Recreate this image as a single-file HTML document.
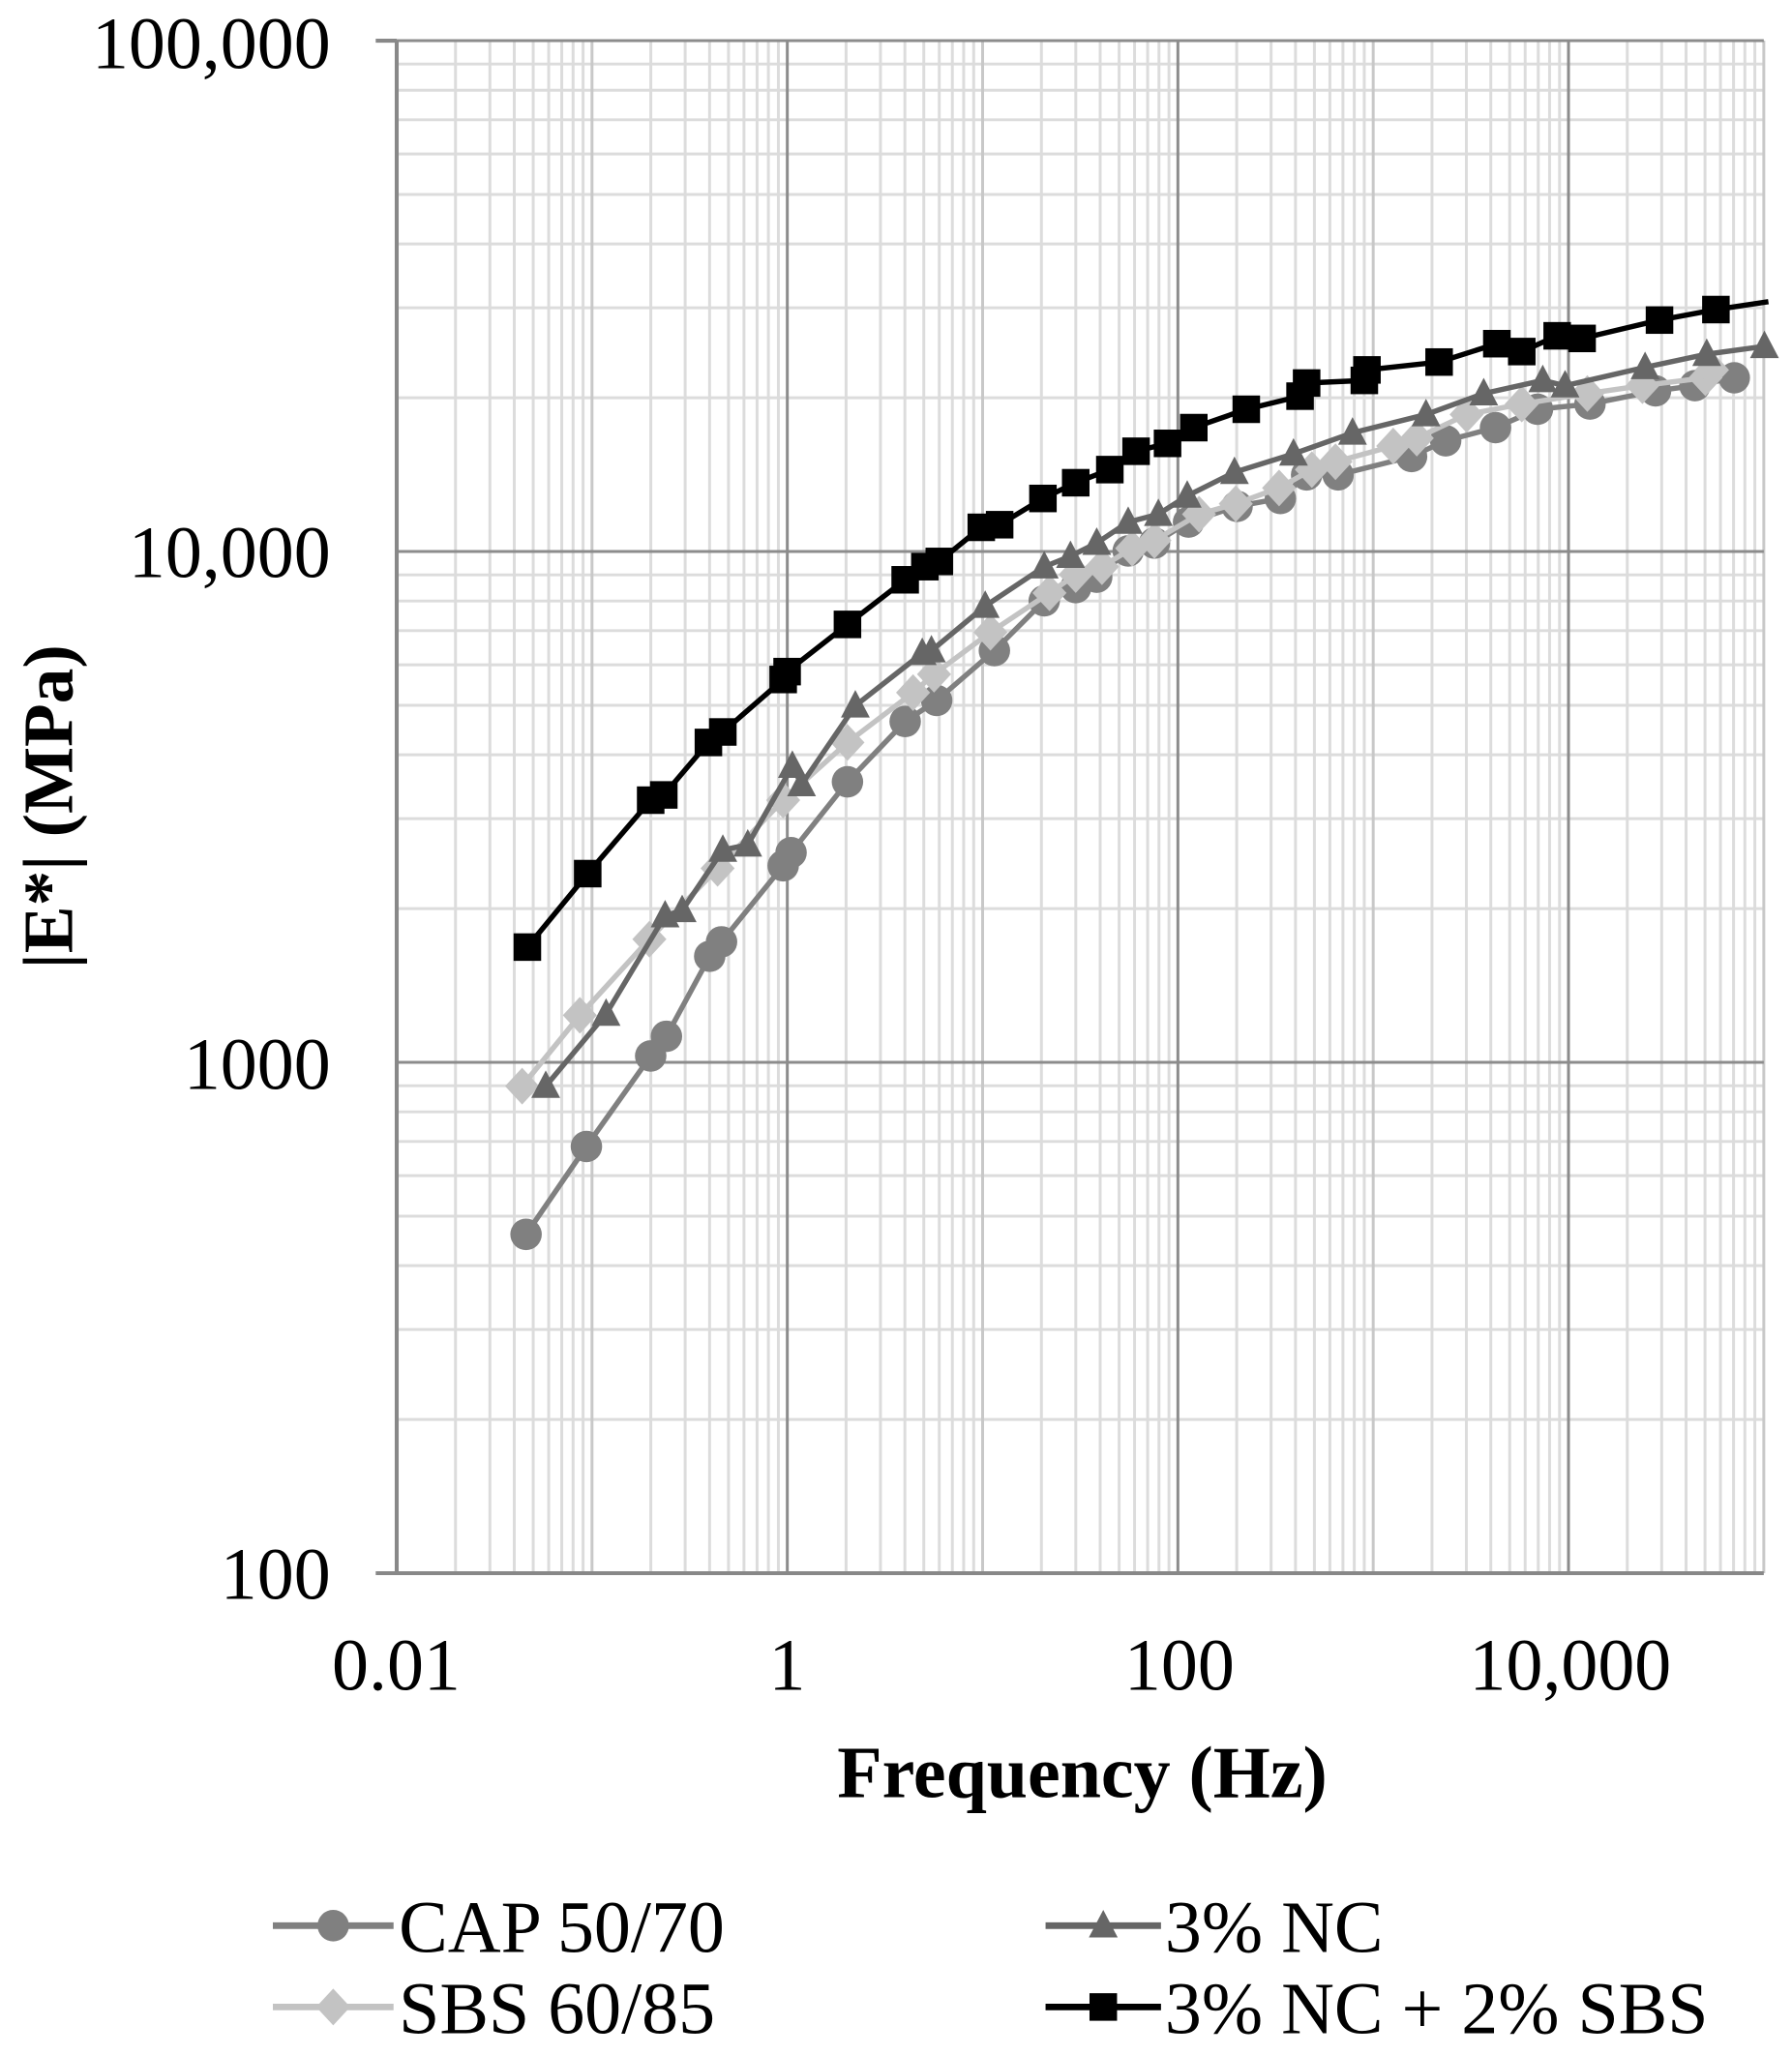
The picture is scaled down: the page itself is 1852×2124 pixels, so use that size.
<!DOCTYPE html>
<html><head><meta charset="utf-8"><style>
html,body{margin:0;padding:0;background:#fff}
svg{display:block}
text{font-family:"Liberation Serif",serif;fill:#000}
</style></head><body>
<svg id="s" width="1852" height="2124" viewBox="0 0 1366 1566.6" preserveAspectRatio="none" xmlns="http://www.w3.org/2000/svg">
<g id="grid"></g>
<g id="series"></g>
<g font-size="56">
<text x="252" y="52" text-anchor="end">100,000</text>
<text x="252" y="440" text-anchor="end">10,000</text>
<text x="252" y="830" text-anchor="end">1000</text>
<text x="252" y="1219" text-anchor="end">100</text>
<text x="302" y="1288" text-anchor="middle">0.01</text>
<text x="600" y="1288" text-anchor="middle">1</text>
<text x="899" y="1288" text-anchor="middle">100</text>
<text x="1197" y="1288" text-anchor="middle">10,000</text>
</g>
<text x="825" y="1370" text-anchor="middle" font-size="56" font-weight="bold">Frequency (Hz)</text>
<text transform="translate(55,615) rotate(-90)" text-anchor="middle" font-size="54" font-weight="bold">|E*| (MPa)</text>
<g id="legend" font-size="56">
<text x="304" y="1488">CAP 50/70</text>
<text x="304" y="1550">SBS 60/85</text>
<text x="888" y="1488">3% NC</text>
<text x="888" y="1550">3% NC + 2% SBS</text>
</g>
</svg>
<script>
var NS="http://www.w3.org/2000/svg";
function el(p,t,a){var e=document.createElementNS(NS,t);for(var k in a)e.setAttribute(k,a[k]);p.appendChild(e);return e;}
var L=302.4,R=1344.5,T=31,B=1199.3,dx=(R-L)/7,dy=(B-T)/3;
var g=document.getElementById('grid');
for(var d=0;d<7;d++){for(var m=2;m<=9;m++){var x=L+dx*(d+Math.log10(m));el(g,'line',{x1:x,x2:x,y1:T,y2:B,stroke:'#dcdcdc','stroke-width':2.2});}}
for(var d=0;d<3;d++){for(var m=2;m<=9;m++){var y=B-dy*(d+Math.log10(m));el(g,'line',{x1:L,x2:R,y1:y,y2:y,stroke:'#dcdcdc','stroke-width':2.2});}}
for(var d=1;d<=7;d++){var x=L+dx*d;el(g,'line',{x1:x,x2:x,y1:T,y2:B,stroke:d%2==0?'#8c8c8c':'#c8c8c8','stroke-width':2.2});}
for(var d=0;d<3;d++){var y=T+dy*d;el(g,'line',{x1:L,x2:R,y1:y,y2:y,stroke:'#8c8c8c','stroke-width':2.2});}
el(g,'line',{x1:L,x2:L,y1:T,y2:B+1,stroke:'#888','stroke-width':3});
el(g,'line',{x1:L-16,x2:R,y1:B,y2:B,stroke:'#888','stroke-width':3});
el(g,'line',{x1:L-16,x2:L,y1:T,y2:T,stroke:'#888','stroke-width':3});
var s=document.getElementById('series');
function mk(p,type,x,y,c){
 if(type=='c')el(p,'circle',{cx:x,cy:y,r:12,fill:c});
 else if(type=='s')el(p,'rect',{x:x-10.5,y:y-10.5,width:21,height:21,fill:c});
 else if(type=='d')el(p,'polygon',{points:(x)+','+(y-14)+' '+(x+13)+','+y+' '+x+','+(y+14)+' '+(x-13)+','+y,fill:c});
 else el(p,'polygon',{points:x+','+(y-12)+' '+(x+11)+','+(y+9)+' '+(x-11)+','+(y+9),fill:c});
}
function ser(pts,c,type,w,end){
 var d=pts.map(function(p){return p.join(',')});
 if(end)d.push(end.join(','));
 el(s,'polyline',{points:d.join(' '),fill:'none',stroke:c,'stroke-width':w,'stroke-linejoin':'round'});
 pts.forEach(function(p){mk(s,type,p[0],p[1],c);});
}
ser([[401,941],[447,874],[496,805],[508,790],[541,729],[550,718],[597,660],[603,650],[646,596],[690,550],[714,534],[758,496],[796,458],[820,448],[836,440],[860,420],[880,414],[906,398],[943,386],[976,380],[996,362],[1020,362],[1076,348],[1102,336],[1140,326],[1172,312],[1212,308],[1262,298],[1292,294],[1322,288]],'#808080','c',4);
ser([[398,828],[442,774],[495,716],[547,662],[597,610],[646,566],[696,528],[712,514],[755,482],[800,452],[820,438],[840,432],[863,418],[880,412],[914,392],[942,384],[975,372],[1000,358],[1018,352],[1062,340],[1080,334],[1118,316],[1160,308],[1210,300],[1252,294],[1300,288],[1305,282]],'#c3c3c3','d',4);
ser([[416,828],[462,773],[507,698],[520,694],[551,648],[570,644],[604,584],[611,598],[652,538],[703,498],[710,496],[751,462],[796,432],[816,424],[836,414],[860,398],[883,392],[905,378],[941,360],[986,346],[1031,330],[1087,316],[1131,300],[1176,290],[1193,294],[1254,280],[1301,270],[1345,264]],'#666666','t',4);
ser([[402,722],[448,666],[496,610],[506,606],[540,566],[551,558],[597,518],[600,512],[646,476],[690,442],[705,432],[716,428],[748,402],[762,400],[795,380],[820,368],[846,358],[866,344],[890,338],[910,326],[950,312],[991,302],[996,292],[1040,290],[1042,282],[1097,276],[1141,262],[1160,268],[1187,256],[1206,258],[1265,244],[1308,236]],'#000000','s',4,[1348,230]);
var lg=document.getElementById('legend');
function leg(x1,x2,y,c,t){el(lg,'line',{x1:x1,x2:x2,y1:y,y2:y,stroke:c,'stroke-width':5});mk(lg,t,(x1+x2)/2,y,c);}
leg(208,300,1468,'#808080','c');
leg(208,300,1530,'#c3c3c3','d');
leg(797,885,1468,'#666666','t');
leg(797,885,1530,'#000000','s');
</script>
</body></html>
